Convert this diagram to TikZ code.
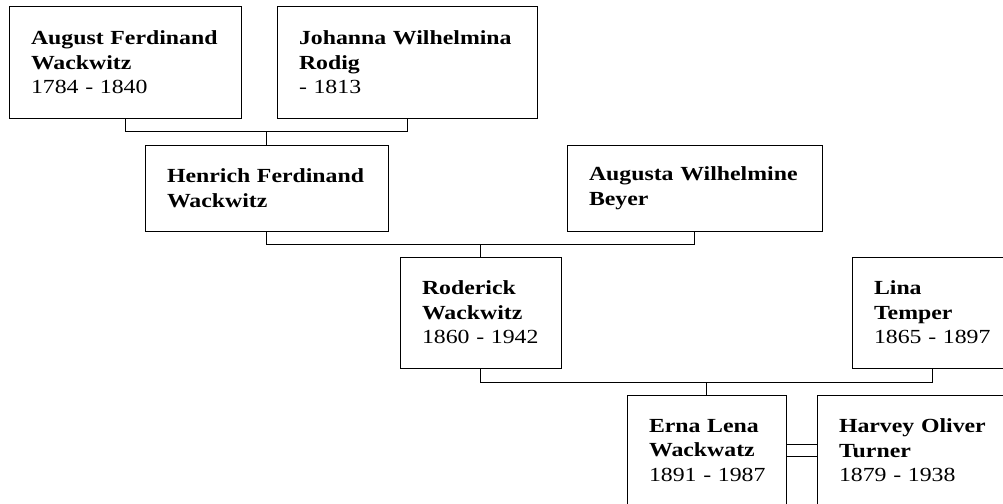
\documentclass[tikz,border=0pt]{standalone}
\usepackage{fontspec}
\setmainfont{Liberation Serif}[FakeStretch=1.19]

\tikzset{
  person/.style={draw, line width=1pt, align=left, inner xsep=22pt, inner ysep=0pt,
    font=\fontsize{20pt}{24.5pt}\selectfont},
  link/.style={line width=1pt}
}

\begin{document}
\begin{tikzpicture}[x=1pt,y=-1pt]
\useasboundingbox (0,0) rectangle (1003,503);
\node[person, minimum width=232pt, minimum height=111pt, text width=188pt] (aug) at (125,62.5) {\textbf{August~Ferdinand}\\\textbf{Wackwitz}\\\mbox{1784 - 1840}};
\node[person, minimum width=260pt, minimum height=111pt, text width=216pt] (joh) at (407,62.5) {\textbf{Johanna~Wilhelmina}\\\textbf{Rodig}\\\mbox{- 1813}};
\node[person, minimum width=243pt, minimum height=86pt, text width=199pt] (hen) at (266.5,188) {\textbf{Henrich~Ferdinand}\\\textbf{Wackwitz}};
\node[person, minimum width=255pt, minimum height=86pt, text width=211pt] (bey) at (694.5,188) {\textbf{Augusta~Wilhelmine}\\\textbf{Beyer}};
\node[person, minimum width=161pt, minimum height=111pt, text width=117pt] (rod) at (480.5,312.5) {\textbf{Roderick}\\\textbf{Wackwitz}\\\mbox{1860 - 1942}};
\node[person, minimum width=160pt, minimum height=111pt, text width=116pt] (lin) at (932,312.5) {\textbf{Lina}\\\textbf{Temper}\\\mbox{1865 - 1897}};
\node[person, minimum width=159pt, minimum height=111pt, text width=115pt] (ern) at (706.5,450.5) {\textbf{Erna~Lena}\\\textbf{Wackwatz}\\\mbox{1891 - 1987}};
\node[person, minimum width=200pt, minimum height=111pt, text width=156pt] (tur) at (917,450.5) {\textbf{Harvey~Oliver}\\\textbf{Turner}\\\mbox{1879 - 1938}};
\path[draw,link] (aug.south) -- ++(0,13) -| (joh.south);
\path[draw,link] (hen.north) -- ++(0,-14);
\path[draw,link] (hen.south) -- ++(0,13) -| (bey.south);
\path[draw,link] (rod.north) -- ++(0,-13);
\path[draw,link] (rod.south) -- ++(0,14) -| (lin.south);
\path[draw,link] (ern.north) -- ++(0,-13);
\path[draw,link,double,double distance=11pt] (ern) -- (tur);
\end{tikzpicture}
\end{document}
